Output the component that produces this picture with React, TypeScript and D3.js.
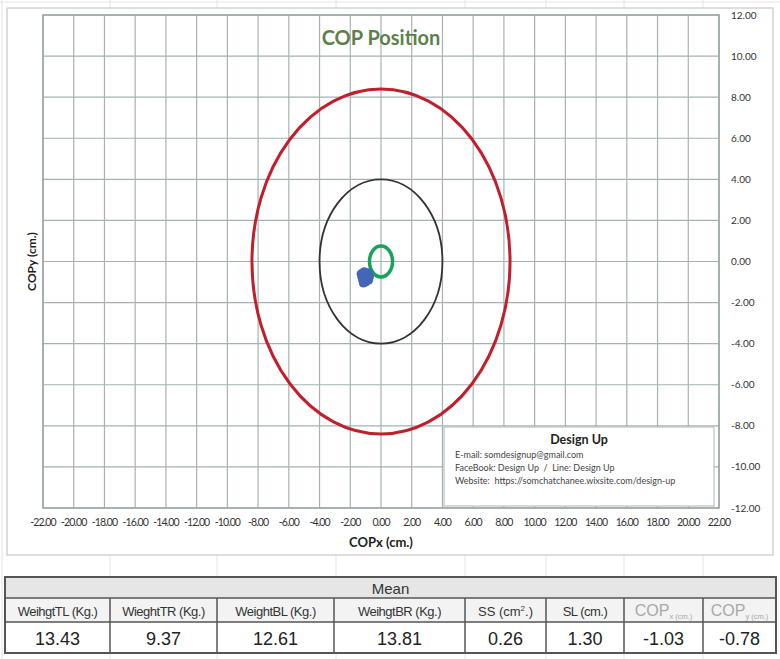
import * as React from 'react';
import { scaleLinear, range } from 'd3';

// chart data
const xTicks = range(-22, 22.01, 2);
const yTicks = range(-12, 12.01, 2);
const ringRadii = [8.4, 4.0, 0.75];
const ringColors = ['#c0202c', '#333333', '#17a35a'];
const ringWidths = [3, 1.8, 3.5];
const copX = [-1.3, -1.2, -1.1, -0.9, -0.8, -1.0, -1.25, -0.85, -1.05, -1.15, -0.95, -1.0, -0.9, -1.2, -0.75];
const copY = [-0.6, -0.9, -0.5, -0.7, -0.9, -1.0, -0.75, -0.55, -0.8, -1.05, -0.95, -0.65, -0.8, -0.6, -0.75];

// table data
const tableHeaders = ['WeihgtTL (Kg.)', 'WieghtTR (Kg.)', 'WeightBL (Kg.)', 'WeihgtBR (Kg.)', 'SS', 'SL (cm.)', 'COPx', 'COPy'];
const tableValues = ['13.43', '9.37', '12.61', '13.81', '0.26', '1.30', '-1.03', '-0.78'];
const colEdges = [5, 110, 217, 334, 465, 546, 624, 703, 776];

const fmt = (v: number) => v.toFixed(2);
const tableFont = "'Liberation Sans', Arial, sans-serif";

const App = () => {
    const margin = { top: 15, bottom: 508, left: 43, right: 719 };
    const x = scaleLinear().domain([-22, 22]).range([margin.left, margin.right]);
    const y = scaleLinear().domain([-12, 12]).range([margin.bottom, margin.top]);

    const rowY = [577, 598, 622, 653];
    const sheetCols = [110, 217, 336, 465, 546, 624, 703];

    return (
        <svg width={780} height={659} style={{ position: 'absolute', left: 0, top: 0, background: '#fff' }}>
            {/* faint spreadsheet cells */}
            <g stroke="#e4e4e4" strokeWidth={1}>
                <line x1={0} x2={780} y1={2} y2={2} />
                {sheetCols.map(c => <line key={c} x1={c} x2={c} y1={0} y2={8} />)}
                {sheetCols.map(c => <line key={'b' + c} x1={c} x2={c} y1={555} y2={577} />)}
                {sheetCols.map(c => <line key={'c' + c} x1={c} x2={c} y1={653} y2={659} />)}
                <line x1={2} x2={2} y1={0} y2={659} />
            </g>

            {/* chart frame */}
            <rect x={7} y={8} width={766} height={547} fill="#fff" stroke="#c8c8c8" strokeWidth={1.2} />

            {/* grid */}
            <g stroke="#a6b2b2" strokeWidth={1.2}>
                {xTicks.map(t => <line key={'gx' + t} x1={x(t)} x2={x(t)} y1={y(12)} y2={y(-12)} />)}
                {yTicks.map(t => <line key={'gy' + t} x1={x(-22)} x2={x(22)} y1={y(t)} y2={y(t)} />)}
            </g>
            <rect x={x(-22)} y={y(12)} width={x(22) - x(-22)} height={y(-12) - y(12)} fill="none" stroke="#9aa4a4" strokeWidth={1.5} />

            <text x={x(0)} y={45} textAnchor="middle" fontFamily="Lato, 'Open Sans', sans-serif" fontWeight="bold" fontSize={20} fill="#5e7f4c">COP Position</text>

            {/* rings */}
            {ringRadii.map((r, i) => (
                <ellipse key={'r' + i} cx={x(0)} cy={y(0)} rx={x(r) - x(0)} ry={y(0) - y(r)} fill="none" stroke={ringColors[i]} strokeWidth={ringWidths[i]} />
            ))}

            {/* COP points */}
            {copX.map((v, i) => (
                <circle key={'p' + i} cx={x(v)} cy={y(copY[i])} r={4.5} fill="#4466b8" />
            ))}

            {/* x axis labels */}
            <g fontFamily="Lato, 'Open Sans', sans-serif" fontSize={10.5} fill="#333" letterSpacing={-0.9}>
                {xTicks.map(t => <text key={'xl' + t} x={x(t)} y={526} textAnchor="middle">{fmt(t)}</text>)}
            </g>
            <text x={x(0)} y={547} textAnchor="middle" fontFamily="Lato, 'Open Sans', sans-serif" fontWeight="bold" fontSize={13} fill="#222">COPx (cm.)</text>

            {/* right axis labels */}
            <g fontFamily="Lato, 'Open Sans', sans-serif" fontSize={10} fill="#333">
                {yTicks.map(t => <text key={'yl' + t} x={731} y={y(t) + 3.5}>{fmt(t)}</text>)}
            </g>
            <text transform={`translate(36, ${y(0)}) rotate(-90)`} textAnchor="middle" fontFamily="Lato, 'Open Sans', sans-serif" fontWeight="bold" fontSize={12} fill="#222">COPy (cm.)</text>

            {/* info box */}
            <rect x={444} y={427} width={270} height={79} fill="#fff" stroke="#b8c0c0" strokeWidth={1.2} />
            <g fontFamily="Lato, 'Open Sans', sans-serif" fill="#444">
                <text x={579} y={444} textAnchor="middle" fontWeight="bold" fontSize={12.5} fill="#222">Design Up</text>
                <text x={455} y={458} fontSize={9}>E-mail: somdesignup@gmail.com</text>
                <text x={455} y={471} fontSize={9} xmlSpace="preserve">{'FaceBook: Design Up  /  Line: Design Up'}</text>
                <text x={455} y={484} fontSize={9} xmlSpace="preserve">{'Website:  https://somchatchanee.wixsite.com/design-up'}</text>
            </g>

            {/* table */}
            <rect x={colEdges[0]} y={rowY[0]} width={colEdges[8] - colEdges[0]} height={rowY[1] - rowY[0]} fill="#e6e6e6" />
            <rect x={colEdges[0]} y={rowY[1]} width={colEdges[8] - colEdges[0]} height={rowY[2] - rowY[1]} fill="#f3f3f3" />
            <g stroke="#555" strokeWidth={1.5} fill="none">
                <rect x={colEdges[0]} y={rowY[0]} width={colEdges[8] - colEdges[0]} height={rowY[3] - rowY[0]} strokeWidth={2} />
                <line x1={colEdges[0]} x2={colEdges[8]} y1={rowY[1]} y2={rowY[1]} />
                <line x1={colEdges[0]} x2={colEdges[8]} y1={rowY[2]} y2={rowY[2]} />
                {colEdges.slice(1, -1).map(c => <line key={'ce' + c} x1={c} x2={c} y1={rowY[1]} y2={rowY[3]} />)}
            </g>
            <g fontFamily={tableFont}>
                <text x={(colEdges[0] + colEdges[8]) / 2} y={594} textAnchor="middle" fontSize={15} fill="#333">Mean</text>
                {tableHeaders.map((h, i) => {
                    const cx = (colEdges[i] + colEdges[i + 1]) / 2;
                    if (h === 'SS') {
                        return (
                            <text key={h} x={cx} y={616} textAnchor="middle" fontSize={13} fill="#333">SS (cm<tspan fontSize={8} dy={-5}>2</tspan><tspan dy={5}>.)</tspan></text>
                        );
                    }
                    if (h.startsWith('COP')) {
                        return (
                            <text key={h} x={cx} y={616} textAnchor="middle" fontSize={16} fill="#a8a8a8">COP<tspan fontSize={7.5} dy={3}>{h.slice(3)} (cm.)</tspan></text>
                        );
                    }
                    return <text key={h} x={cx} y={616} textAnchor="middle" fontSize={13} fill="#333" letterSpacing={-0.5}>{h}</text>;
                })}
                {tableValues.map((v, i) => (
                    <text key={'v' + i} x={(colEdges[i] + colEdges[i + 1]) / 2} y={645} textAnchor="middle" fontSize={18} fill="#222">{v}</text>
                ))}
            </g>
        </svg>
    );
};

export default App;
